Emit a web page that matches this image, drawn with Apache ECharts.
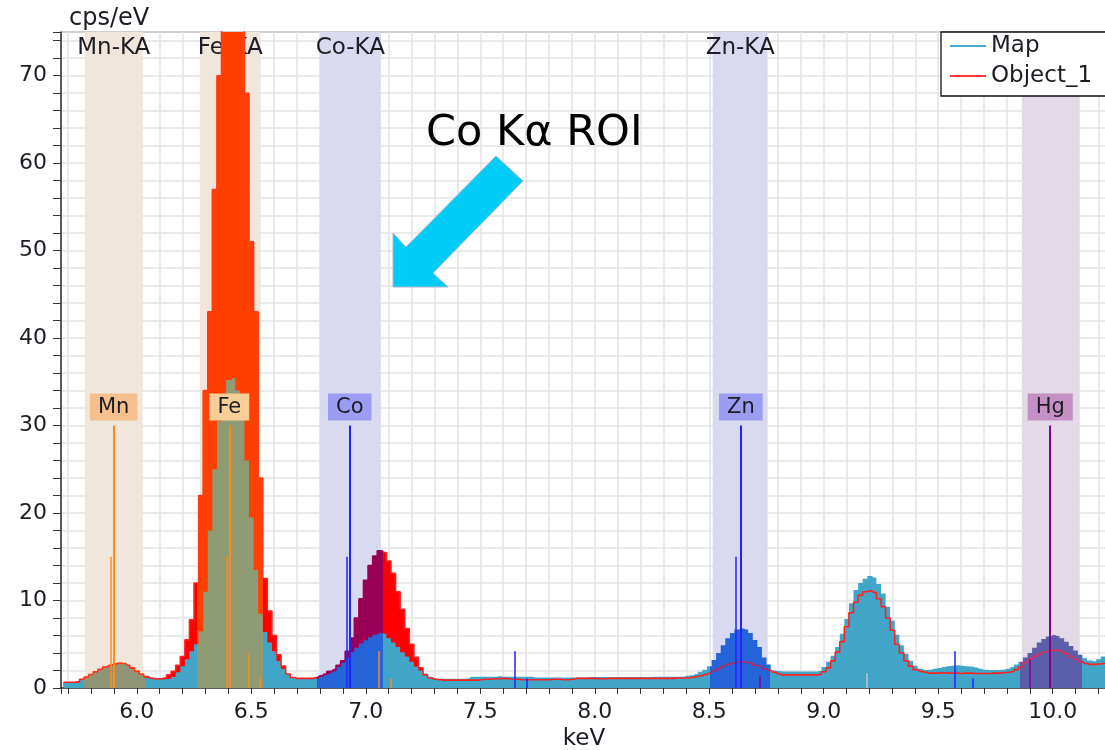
<!DOCTYPE html>
<html>
<head>
<meta charset="utf-8">
<title>EDS spectrum</title>
<script src="https://cdn.jsdelivr.net/npm/echarts@6.0.0/dist/echarts.min.js"></script>
<style>
  html, body { margin: 0; padding: 0; background: #fff; }
  #chart { width: 1105px; height: 750px; }
</style>
</head>
<body>
<div id="chart"></div>
<script>
// spectrum bins, 20 eV wide, first bin centred at 5.68 keV
const binStart = 5.68;
const binWidth = 0.02;

// cps/eV, one value per bin (rows of 0.2 keV)
const mapCounts = [
  0.6, 0.6, 0.6, 0.65, 0.95, 1.2, 1.5, 1.8, 2.1, 2.35,          // 5.68
  2.5, 2.7, 2.8, 2.75, 2.55, 2.2, 1.85, 1.55, 1.2, 1.05,         // 5.88
  1.0, 1.0, 1.0, 1.05, 1.3, 1.8, 2.5, 3.3, 4.2, 5.0,             // 6.08
  6.5, 11, 18, 25, 30.5, 33.5, 35.2, 35.4, 34, 31,               // 6.28
  26, 19.5, 13.5, 8.5, 6.4, 5.2, 4.2, 3.1, 2.2, 1.6,             // 6.48
  1.25, 1.1, 1.05, 1.05, 1.05, 1.1, 1.25, 1.45, 1.65, 1.9,       // 6.68
  2.4, 2.9, 3.5, 4.1, 4.6, 5.1, 5.45, 5.8, 6.1, 6.3,             // 6.88
  6.2, 5.7, 5.2, 4.7, 4.1, 3.6, 3.0, 2.45, 2.0, 1.65,            // 7.08
  1.3, 1.1, 1.05, 1.05, 1.05, 1.05, 1.05, 1.05, 1.1, 1.3,        // 7.28
  1.3, 1.3, 1.3, 1.3, 1.3, 1.35, 1.3, 1.3, 1.3, 1.3,             // 7.48
  1.3, 1.3, 1.3, 1.2, 1.2, 1.2, 1.2, 1.2, 1.2, 1.2,              // 7.68
  1.2, 1.2, 1.2, 1.2, 1.2, 1.25, 1.25, 1.25, 1.25, 1.25,         // 7.88
  1.25, 1.25, 1.25, 1.25, 1.25, 1.25, 1.25, 1.25, 1.25, 1.3,     // 8.08
  1.3, 1.3, 1.3, 1.3, 1.3, 1.3, 1.4, 1.45, 1.6, 1.85,            // 8.28
  2.1, 2.5, 3.2, 4.0, 4.9, 5.7, 6.3, 6.7, 6.8, 6.7,              // 8.48
  6.3, 5.5, 4.7, 3.5, 2.7, 2.0, 1.95, 1.9, 1.9, 1.9,             // 8.68
  1.9, 1.9, 1.9, 1.9, 1.9, 1.95, 2.4, 3.0, 3.7, 4.7,             // 8.88
  6.2, 7.9, 9.7, 11.2, 12.0, 12.5, 12.8, 12.6, 11.9, 10.8,       // 9.08
  9.3, 7.7, 6.1, 4.9, 3.9, 3.1, 2.55, 2.2, 2.05, 2.1,            // 9.28
  2.2, 2.3, 2.4, 2.5, 2.55, 2.6, 2.55, 2.5, 2.45, 2.35,          // 9.48
  2.2, 2.1, 2.05, 2.05, 2.05, 2.1, 2.2, 2.4, 2.7, 3.0,           // 9.68
  3.5, 4.0, 4.6, 5.2, 5.6, 5.9, 6.05, 5.95, 5.7, 5.3,            // 9.88
  4.8, 4.3, 3.8, 3.4, 3.15, 3.05, 3.3, 3.6, 3.7                  // 10.08
];

const objCounts = [
  0.65, 0.65, 0.65, 0.7, 1.0, 1.25, 1.55, 1.85, 2.15, 2.4,       // 5.68
  2.6, 2.75, 2.85, 2.8, 2.6, 2.3, 1.95, 1.6, 1.3, 1.1,           // 5.88
  1.05, 1.05, 1.15, 1.5, 1.9, 2.6, 3.6, 5.5, 7.8, 12,            // 6.08
  22, 34, 43, 57, 70, 83, 92, 95, 91, 82,                        // 6.28
  68, 51, 43, 24, 12.5, 8.8, 6.0, 3.8, 2.5, 1.6,                 // 6.48
  1.2, 1.1, 1.1, 1.1, 1.1, 1.2, 1.4, 1.6, 1.9, 2.1,              // 6.68
  2.6, 3.1, 4.2, 5.7, 8.0, 10.2, 12.3, 14.0, 15.1, 15.7,         // 6.88
  15.5, 14.5, 13.1, 11.0, 9.0, 6.8, 5.0, 3.5, 2.3, 1.5,          // 7.08
  1.15, 1.0, 0.95, 0.9, 0.9, 0.9, 0.9, 0.9, 0.9, 0.9,            // 7.28
  0.9, 0.95, 1.0, 1.0, 1.05, 1.05, 1.1, 1.05, 1.0, 1.0,          // 7.48
  0.95, 0.95, 0.95, 0.95, 0.95, 0.95, 0.95, 1.0, 1.0, 0.95,      // 7.68
  0.95, 1.0, 1.1, 1.1, 1.1, 1.1, 1.1, 1.05, 1.05, 1.1,           // 7.88
  1.1, 1.1, 1.1, 1.1, 1.1, 1.1, 1.1, 1.1, 1.1, 1.1,              // 8.08
  1.1, 1.1, 1.1, 1.1, 1.15, 1.15, 1.15, 1.2, 1.3, 1.4,           // 8.28
  1.55, 1.7, 1.95, 2.2, 2.45, 2.7, 2.85, 3.0, 3.0, 2.95,         // 8.48
  2.85, 2.6, 2.45, 2.2, 2.0, 1.8, 1.6, 1.5, 1.5, 1.5,            // 8.68
  1.5, 1.5, 1.5, 1.5, 1.5, 1.55, 1.85, 2.3, 3.1, 4.1,            // 8.88
  5.3, 7.0, 8.6, 9.8, 10.6, 11.0, 11.1, 10.9, 10.2, 9.3,         // 9.08
  8.0, 6.6, 5.0, 4.0, 3.1, 2.5, 2.1, 1.9, 1.8, 1.7,              // 9.28
  1.7, 1.7, 1.75, 1.7, 1.7, 1.7, 1.65, 1.7, 1.7, 1.65,           // 9.48
  1.65, 1.65, 1.65, 1.7, 1.7, 1.75, 1.8, 1.85, 2.1, 2.4,         // 9.68
  2.9, 3.3, 3.6, 3.85, 4.1, 4.25, 4.33, 4.3, 4.15, 3.9,          // 9.88
  3.6, 3.3, 3.0, 2.8, 2.7, 2.7, 2.75, 2.8, 2.9                   // 10.08
];

// regions of interest (keV)
const roiNames = ['Mn-KA', 'Fe-KA', 'Co-KA', 'Zn-KA', ''];
const roiStart = [5.773, 6.275, 6.799, 8.515, 9.865];
const roiEnd = [6.026, 6.541, 7.066, 8.755, 10.118];

// element marker lines
const lineElements = ['Mn', 'Mn', 'Mn', 'Mn', 'Fe', 'Fe', 'Fe', 'Fe', 'Co', 'Co', 'Co', 'Co',
  'Zn', 'Zn', 'Zn', 'Zn', 'Hg', 'Hg', 'Hg', ''];
const lineEnergies = [5.899, 5.888, 6.490, 6.537, 6.404, 6.391, 7.058, 7.108, 6.930, 6.915, 7.649, 7.705,
  8.638, 8.615, 9.572, 9.650, 9.989, 9.898, 8.722, 9.188];
const lineHeights = [30, 15, 4.1, 1.1, 30, 15, 4.2, 1.1, 30, 15, 4.2, 1.1,
  30, 15, 4.2, 1.1, 30, 3.3, 1.4, 1.7];

const font = 'DejaVu Sans, Verdana, sans-serif';
const textColor = '#1c1c24';
const bandColors = ['#f0e6dc', '#f0e6dc', '#d9d9f0', '#d9d9f0', '#e4d9e6'];
const mapRoiColors = ['#8f9575', '#8e9b73', '#2563d8', '#2563d8', '#5b5ea9'];
const objFillRoiColors = ['#ff2200', '#ff4000', '#990055', '#ff0000', '#ff0000'];
const objLineRoiColors = ['#ff3a1a', '#ff3a1a', '#990055', '#b3265e', '#d4305c'];
const markerColors = { Mn: '#ff8c1a', Fe: '#ff8c1a', Co: '#2222ff', Zn: '#2222ff', Hg: '#8b008b', '': '#c4c4c4' };
const labelColors = { Mn: '#f6c08e', Fe: '#f8ce98', Co: '#9c9cf2', Zn: '#9c9cf2', Hg: '#c690c6' };

const energies = mapCounts.map((_, i) => +(binStart + i * binWidth).toFixed(2));
const mapData = energies.map((e, i) => [e, mapCounts[i]]);
const objData = energies.map((e, i) => [e, objCounts[i]]);

const roiPieces = colors => roiStart.map((s, i) => ({ gte: s - 0.01, lt: roiEnd[i] + 0.01, color: colors[i] }));

const chart = echarts.init(document.getElementById('chart'));

const option = {
  animation: false,
  textStyle: { fontFamily: font },
  grid: {
    left: 61, top: 32, right: -2, bottom: 62,
    outerBoundsMode: 'none',
    show: true, borderColor: '#333', borderWidth: 1
  },
  legend: {
    orient: 'vertical',
    left: 941, top: 32,
    data: [
      { name: 'Map', itemStyle: { color: '#4aa8d4' } },
      { name: 'Object_1', itemStyle: { color: '#ff3b3b' } }
    ],
    icon: 'rect',
    itemWidth: 36, itemHeight: 2, itemGap: 6,
    backgroundColor: '#fff', borderColor: '#111', borderWidth: 1.3, borderRadius: 0,
    padding: [2, 30, 8, 9],
    textStyle: { fontSize: 23, lineHeight: 24, color: textColor, fontFamily: font }
  },
  visualMap: [
    { type: 'piecewise', show: false, dimension: 0, seriesIndex: 1, pieces: roiPieces(objFillRoiColors), outOfRange: { color: '#ff0000' } },
    { type: 'piecewise', show: false, dimension: 0, seriesIndex: 2, pieces: roiPieces(mapRoiColors), outOfRange: { color: '#41a5c8' } },
    { type: 'piecewise', show: false, dimension: 0, seriesIndex: 3, pieces: roiPieces(objLineRoiColors), outOfRange: { color: '#ff2020' } }
  ],
  xAxis: {
    type: 'value',
    min: 5.669, max: 10.237,
    splitNumber: 46, minInterval: 0.1, maxInterval: 0.1,
    name: 'keV', nameLocation: 'middle', nameGap: 38,
    nameTextStyle: { fontSize: 23, color: textColor, fontFamily: font },
    axisLine: { lineStyle: { color: '#333', width: 1.5 } },
    axisTick: { length: 6, lineStyle: { color: '#333' } },
    axisLabel: {
      fontSize: 22, color: textColor, margin: 13, fontFamily: font,
      formatter: v => (Math.abs(v * 2 - Math.round(v * 2)) < 1e-6 ? v.toFixed(1) : '')
    },
    splitLine: { show: true, lineStyle: { color: '#e3e3e3', width: 1.5 } }
  },
  yAxis: {
    type: 'value',
    min: 0, max: 75, interval: 2,
    axisLine: { show: true, lineStyle: { color: '#333', width: 1.5 } },
    axisTick: { show: true, length: 8, lineStyle: { color: '#333' } },
    axisLabel: {
      fontSize: 22, color: textColor, margin: 14, fontFamily: font,
      formatter: v => (v % 10 === 0 ? String(v) : '')
    },
    splitLine: { show: true, lineStyle: { color: '#e3e3e3', width: 1.5 } }
  },
  series: [
    {
      name: 'roi',
      type: 'line',
      data: [],
      z: 1,
      markArea: {
        silent: true,
        label: { position: 'insideTop', distance: 5, fontSize: 23, color: textColor, fontFamily: font },
        data: roiNames.map((n, i) => [
          { name: n, xAxis: roiStart[i], itemStyle: { color: bandColors[i] } },
          { xAxis: roiEnd[i] }
        ])
      }
    },
    {
      name: 'Object_1 fill',
      type: 'line',
      step: 'middle',
      data: objData,
      symbol: 'none',
      z: 2,
      lineStyle: { width: 0 },
      areaStyle: { opacity: 1 }
    },
    {
      name: 'Map',
      type: 'line',
      step: 'middle',
      data: mapData,
      symbol: 'none',
      color: '#4aa8d4',
      z: 3,
      lineStyle: { width: 0 },
      areaStyle: { opacity: 1 }
    },
    {
      name: 'Object_1',
      type: 'line',
      step: 'middle',
      data: objData,
      symbol: 'none',
      color: '#ff3b3b',
      z: 4,
      lineStyle: { width: 1.6 }
    },
    {
      name: 'markers',
      type: 'line',
      data: [],
      z: 5,
      markLine: {
        silent: true,
        symbol: ['none', 'none'],
        data: lineEnergies.map((e, i) => {
          const el = lineElements[i];
          const main = lineHeights[i] === 30;
          return [
            {
              name: el,
              coord: [e, 0],
              lineStyle: { color: markerColors[el], width: main ? 2 : 1.5, type: 'solid' },
              label: main ? {
                show: true, position: 'end', distance: 5, formatter: '{b}',
                fontSize: 21, lineHeight: 21, color: textColor, fontFamily: font,
                backgroundColor: labelColors[el], padding: [3, 8, 3, 8]
              } : { show: false }
            },
            { coord: [e, lineHeights[i]] }
          ];
        })
      }
    }
  ],
  graphic: [
    {
      type: 'text', left: 69, top: 7, z: 10,
      style: { text: 'cps/eV', fontSize: 24, fill: textColor, fontFamily: font }
    },
    {
      type: 'polygon', z: 10,
      shape: { points: [[393, 287], [393, 233], [406, 247], [496, 156], [523, 181], [433, 273], [448, 287]] },
      style: { fill: '#00ccf7', stroke: '#a8b8c8', lineWidth: 1 }
    },
    {
      type: 'text', x: 426, y: 134, z: 10,
      style: { text: 'Co Kα ROI', fontSize: 43, fill: '#000', fontFamily: font, verticalAlign: 'middle' }
    }
  ]
};

chart.setOption(option);
</script>
</body>
</html>
